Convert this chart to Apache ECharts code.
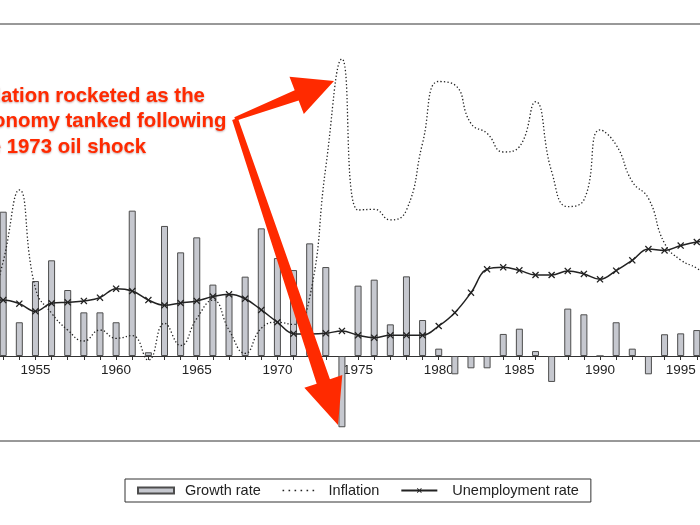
<!DOCTYPE html>
<html><head><meta charset="utf-8">
<script src="https://cdn.jsdelivr.net/npm/echarts@6/dist/echarts.min.js"></script>
<style>html,body{margin:0;padding:0;background:#fff;overflow:hidden;width:700px;height:525px}#c{position:absolute;left:-21px;top:0;width:742px;height:525px}</style>
</head><body><div id="c"></div>
<script>
// ---- data (years 1952..1997) ----
const years = ['1952','1953','1954','1955','1956','1957','1958','1959','1960','1961','1962','1963','1964','1965','1966','1967','1968','1969','1970','1971','1972','1973','1974','1975','1976','1977','1978','1979','1980','1981','1982','1983','1984','1985','1986','1987','1988','1989','1990','1991','1992','1993','1994','1995','1996','1997'];
const growthRate = [null,9.62,2.25,5.0,6.38,4.4,2.91,2.91,2.25,9.69,0.25,8.67,6.91,7.91,4.76,4.1,5.29,8.51,6.53,5.73,7.51,5.93,-4.75,4.69,5.09,2.11,5.31,2.4,0.49,-1.22,-0.82,-0.82,1.47,1.82,0.33,-1.73,3.16,2.78,0,2.25,0.49,-1.22,1.45,1.51,1.73,null];
const inflation = [2.5,6.3,11.07,4.5,2.85,1.73,1.0,1.73,1.18,1.36,-0.27,2.18,0.7,2.5,3.73,1.73,0.18,1.85,2.25,2.1,3.9,12.6,19.8,9.73,9.78,9.07,9.73,14.2,18.3,18.07,15.5,14.84,13.6,13.95,16.95,12.3,9.96,10.4,15.07,14.07,11.62,10.51,7.51,6.4,5.85,5.0];
const unemployment = [3.7,3.73,3.49,2.98,3.51,3.58,3.67,3.89,4.49,4.33,3.73,3.38,3.53,3.67,3.96,4.11,3.82,3.07,2.25,1.49,1.47,1.51,1.67,1.38,1.22,1.38,1.38,1.38,2.0,2.89,4.22,5.78,5.91,5.71,5.4,5.4,5.67,5.47,5.11,5.69,6.38,7.13,7.04,7.36,7.6,7.7];
const seriesNames = ['Growth rate','Inflation','Unemployment rate'];
const annotationLines = ['Inflation rocketed as the','economy tanked following','the 1973 oil shock'];

const SHIFT = 21;          // chart div is shifted 21px left so the plot frame's sides fall off-page
const GRID_TOP = 24, GRID_BOTTOM_PX = 441, ZERO_PX = 356, PX_PER_UNIT = 15;
const FONT = '"Liberation Sans", Arial, Helvetica, sans-serif';
const RED = '#ff2a00';
const XMARK = 'path://M0,1.3L1.3,0L5,3.7L8.7,0L10,1.3L6.3,5L10,8.7L8.7,10L5,6.3L1.3,10L0,8.7L3.7,5Z';

function arrow(tail, tip, w0, w1, headLen, headHalf) {
  tail = [tail[0]+SHIFT, tail[1]]; tip = [tip[0]+SHIFT, tip[1]];
  const dx = tip[0]-tail[0], dy = tip[1]-tail[1];
  const L = Math.hypot(dx, dy);
  const ux = dx/L, uy = dy/L, nx = -uy, ny = ux;
  const bx = tip[0]-ux*headLen, by = tip[1]-uy*headLen;
  return [
    [tail[0]+nx*w0/2, tail[1]+ny*w0/2],
    [bx+nx*w1/2, by+ny*w1/2],
    [bx+nx*headHalf, by+ny*headHalf],
    tip,
    [bx-nx*headHalf, by-ny*headHalf],
    [bx-nx*w1/2, by-ny*w1/2],
    [tail[0]-nx*w0/2, tail[1]-ny*w0/2]
  ];
}

const chart = echarts.init(document.getElementById('c'), null, {renderer:'canvas'});
chart.setOption({
  animation: false,
  backgroundColor: '#fff',
  textStyle: {fontFamily: FONT},
  grid: {left: 0, right: 0, top: GRID_TOP, bottom: 525 - GRID_BOTTOM_PX, show: true, borderColor: '#333', borderWidth: 1, backgroundColor: 'transparent'},
  xAxis: {
    type: 'category', data: years, boundaryGap: true, position: 'bottom',
    offset: -(GRID_BOTTOM_PX - ZERO_PX),
    axisLine: {onZero: false, lineStyle: {color: '#333', width: 1}},
    axisTick: {show: true, alignWithLabel: true, interval: 0, length: 4, lineStyle: {color: '#333'}},
    axisLabel: {interval: (i, v) => (+v) % 5 === 0, fontSize: 13.5, color: '#222', margin: 7, fontFamily: FONT},
    splitLine: {show: false}
  },
  yAxis: {type: 'value', show: false,
    min: -(GRID_BOTTOM_PX - ZERO_PX) / PX_PER_UNIT, max: (ZERO_PX - GRID_TOP) / PX_PER_UNIT,
    splitLine: {show: false}},
  legend: {
    left: 125 + SHIFT, top: 479, orient: 'horizontal',
    padding: [4, 12, 4, 12], itemGap: 21, itemWidth: 36, itemHeight: 6,
    borderColor: '#333', borderWidth: 1, borderRadius: 0,
    textStyle: {fontSize: 14.5, color: '#222', fontFamily: FONT},
    data: [
      {name: seriesNames[0], icon: 'rect', textStyle: {padding: [0, 0, 0, 6]}},
      {name: seriesNames[1], itemStyle: {opacity: 0}, lineStyle: {type: [1.6, 4.4], width: 1.6, color: '#222'}, textStyle: {padding: [0, 0, 0, 5]}},
      {name: seriesNames[2], textStyle: {padding: [0, 0, 0, 10]}}
    ]
  },
  series: [
    {name: seriesNames[0], type: 'bar', data: growthRate, barWidth: 7, z: 1,
     itemStyle: {color: '#c6c8cf', borderColor: '#4d4d4d', borderWidth: 1}},
    {name: seriesNames[1], type: 'line', data: inflation, smooth: 0.5, symbol: 'none', z: 2,
     lineStyle: {color: '#222', width: 1.3, type: [1.3, 2.2]}, itemStyle: {color: '#222'}},
    {name: seriesNames[2], type: 'line', data: unemployment, smooth: 0.4, symbol: XMARK, symbolSize: 7, z: 3,
     lineStyle: {color: '#222', width: 1.5}, itemStyle: {color: '#222'}}
  ],
  graphic: [
    {type: 'polygon', z: 100, shape: {points: arrow([235,119],[334,81],4,11,40,20)}, style: {fill: RED}},
    {type: 'polygon', z: 100, shape: {points: arrow([235,119],[338,425],6,14,46,20)}, style: {fill: RED}},
    {type: 'text', z: 101, x: -29.6 + SHIFT, y: 83.5,
     style: {text: annotationLines.join('\n'), font: 'bold 20.4px ' + FONT, fill: RED, lineHeight: 25.5,
       textShadowColor: 'rgba(90,0,0,0.35)', textShadowBlur: 2, textShadowOffsetY: 1}}
  ]
});
</script></body></html>
